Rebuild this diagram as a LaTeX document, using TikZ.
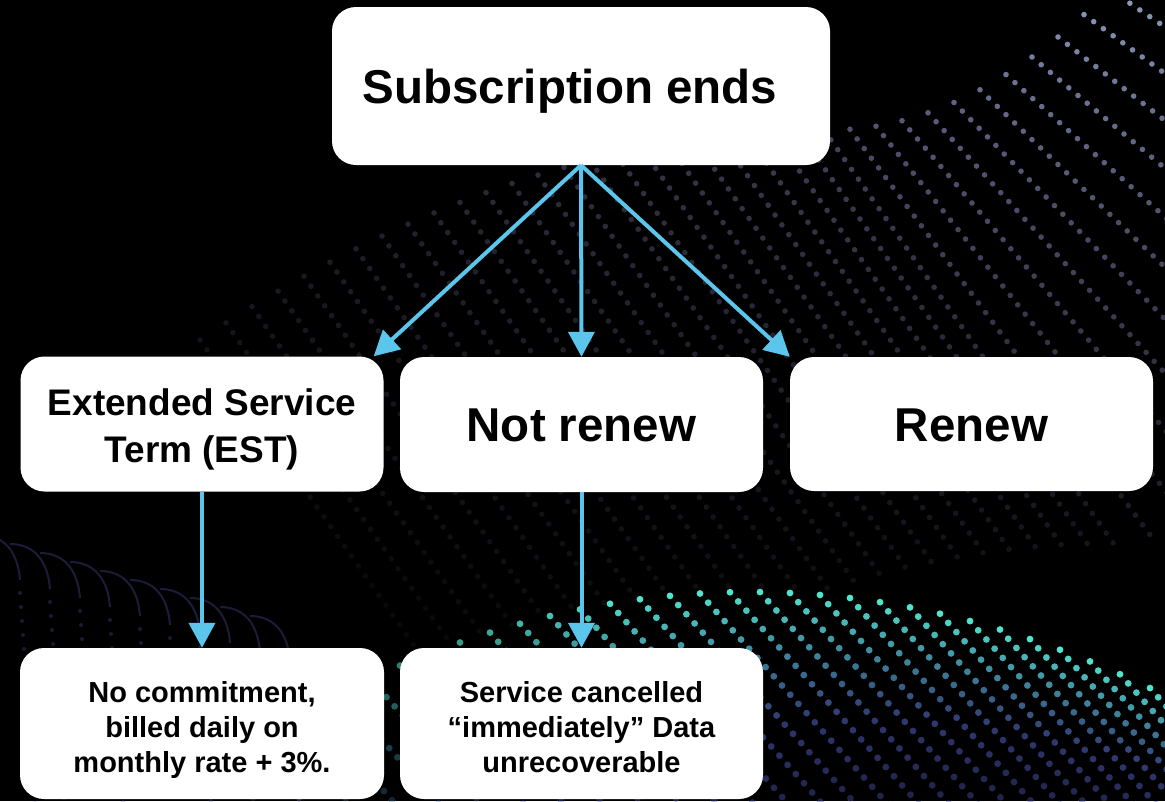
\documentclass[tikz,border=0pt]{standalone}
\usepackage{fontspec}
\setmainfont{Liberation Sans}
\usetikzlibrary{arrows.meta}
\definecolor{arrowblue}{RGB}{91,197,235}
\definecolor{lav}{RGB}{150,150,205}
\definecolor{skyish}{RGB}{175,205,235}
\definecolor{tealdot}{RGB}{80,228,205}
\definecolor{bluedot}{RGB}{75,85,175}
\definecolor{arcpurple}{RGB}{95,95,190}
\tikzset{
  box/.style={fill=white, rounded corners=24pt, inner sep=0pt, align=center, text=black},
  bigtxt/.style={font=\bfseries\fontsize{47.5pt}{57pt}\selectfont, text height=34pt, text depth=0pt},
  midtxt/.style={font=\bfseries\fontsize{37pt}{47pt}\selectfont, text height=76pt, text depth=0pt},
  smalltxt/.style={font=\bfseries\fontsize{29pt}{35pt}\selectfont, text height=97pt, text depth=0pt},
  arr/.style={draw=arrowblue, line width=4pt, -{Triangle[length=25pt,width=26pt]}},
}
\begin{document}
\begin{tikzpicture}[x=1pt,y=-1pt]
\useasboundingbox (0,0) rectangle (1165,801);
\fill[black] (0,0) rectangle (1165,801);
\begin{scope}
\clip (0,0) rectangle (1165,801);
% upper dotted wave
\begin{scope}
\clip (0,0) -- (1165,0) -- plot[domain=1165:0,samples=40] (\x,{592+((\x-750)*0.0245)^2}) -- cycle;
\foreach \i in {0,...,38}{
  \pgfmathsetmacro{\sx}{200+\i*26}
  \pgfmathsetmacro{\sy}{\sx<830 ? 130+((830-\sx)*0.023)^2 : 130-((\sx-830)*0.0423)^2}
  \pgfmathsetmacro{\ang}{\sx<830 ? 55 : 55-25*(\sx-830)/335}
  \pgfmathsetmacro{\base}{\sx<830 ? 0.12+0.33*(\sx-200)/630 : 0.5+0.4*(\sx-830)/335}
  \pgfmathtruncatemacro{\mc}{\sx<950 ? 100 : max(0,100-(\sx-950)*0.45)}
  \foreach \j in {0,...,42}{
    \pgfmathsetmacro{\op}{max(0.05,\base*(1-\j/62))}
    \fill[lav!\mc!skyish, opacity=\op] ({\sx+\j*12*cos(\ang)},{\sy+\j*12*sin(\ang)}) circle (2.8);
  }
}
\end{scope}
% teal dotted wave
\foreach \i in {0,...,32}{
  \pgfmathsetmacro{\sx}{220+\i*30}
  \pgfmathsetmacro{\sy}{592+((\sx-750)*0.0245)^2}
  \pgfmathsetmacro{\base}{\sx<620 ? max(0.2,1-(620-\sx)*0.002) : 1}
  \foreach \j in {0,...,24}{
    \pgfmathsetmacro{\op}{\base*(1-\j*0.026)}
    \pgfmathtruncatemacro{\mx}{max(0,100-\j*7)}
    \fill[tealdot!\mx!bluedot, opacity=\op] ({\sx+\j*8.2},{\sy+\j*9.2}) circle (3.4);
  }
}
% left purple arcs
\foreach \i in {0,...,9}{
  \pgfmathsetmacro{\ax}{-20+\i*30}
  \pgfmathsetmacro{\ay}{535+\i*9}
  \draw[arcpurple, opacity=0.3, line width=2pt] (\ax,\ay) .. controls (\ax+25,\ay) and (\ax+38,\ay+18) .. (\ax+40,\ay+45);
  \foreach \j in {0,...,18}{
    \fill[arcpurple, opacity=0.28] ({\ax+40+\j*1},{\ay+58+\j*14}) circle (2);
  }
}
\end{scope}

% boxes
\node[box, bigtxt, minimum width=498pt, minimum height=158pt] (top) at (581,86) {Subscription ends\hspace*{22pt}};
\node[box, midtxt, minimum width=363pt, minimum height=135pt] (est) at (202,424) {Extended Service\\Term (EST)};
\node[box, bigtxt, minimum width=363pt, minimum height=135pt] (notrenew) at (581.5,424.5) {Not renew};
\node[box, bigtxt, minimum width=363pt, minimum height=134pt] (renew) at (971.5,424) {Renew};
\node[box, smalltxt, minimum width=364pt, minimum height=151pt] (nc) at (202,723.5) {No commitment,\\billed daily on\\monthly rate + 3\%.};
\node[box, smalltxt, minimum width=363pt, minimum height=151pt] (sc) at (581.5,723.5) {Service cancelled\\“immediately” Data\\unrecoverable};

% connectors
\draw[arr] (top.south) -- ([xshift=-10pt]est.north east);
\draw[arr] (top.south) -- (notrenew.north);
\draw[arr] (top.south) -- (renew.north west);
\draw[arr] (est.south) -- (nc.north);
\draw[arr] (notrenew.south) -- (sc.north);
\end{tikzpicture}
\end{document}
